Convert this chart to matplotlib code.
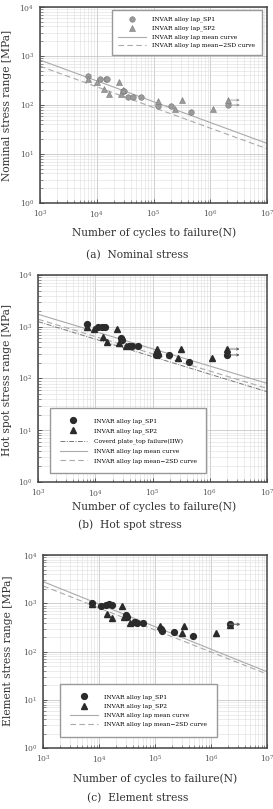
import matplotlib
matplotlib.use("Agg")
import matplotlib.pyplot as plt
from matplotlib.ticker import LogLocator, NullFormatter

plt.rcParams['font.family'] = ['DejaVu Serif']
plt.rcParams['mathtext.fontset'] = 'dejavuserif'

# ---------------- data ----------------
# (a) Nominal stress
a_sp1_N = [7100, 11400, 14500, 15200, 28600, 30500, 36000, 44000, 59400, 122000, 201000, 452000, 2030000]
a_sp1_S = [391, 340, 345, 345, 196, 196, 148, 148, 148, 95, 95, 72, 100]
a_sp2_N = [7100, 10000, 13400, 16600, 24700, 26700, 29400, 122000, 240000, 318000, 1100000, 2030000]
a_sp2_S = [334, 299, 209, 165, 290, 165, 202, 121, 82, 126, 82, 126]
a_mean_N = [1e3, 1e7]
a_mean_S = [828, 16.5]
a_2sd_S = [620, 12.8]
a_runout_S = [100, 126]

# (b) Hot spot stress
b_sp1_N = [7050, 11000, 13000, 14900, 27700, 28900, 39300, 43200, 56400, 115000, 126000, 197000, 440000, 2000000]
b_sp1_S = [1150, 1010, 1010, 1010, 598, 555, 425, 425, 425, 285, 285, 285, 211, 285]
b_sp2_N = [7050, 9450, 13400, 16200, 23600, 26200, 34300, 117000, 283000, 312000, 1090000, 2000000]
b_sp2_S = [1000, 890, 625, 500, 890, 492, 425, 366, 245, 371, 245, 371]
b_line_N = [1e3, 1e7]
b_mean_S = [1738, 80.7]
b_2sd_S = [1393, 64.6]
b_iiw_S = [1253, 55.6]
b_runout_S = [285, 371]

# (c) Element stress
c_sp1_N = [7340, 10600, 13200, 15200, 16700, 30100, 31800, 43600, 48000, 61500, 126000, 131000, 218000, 482000, 2190000]
c_sp1_S = [1000, 880, 920, 950, 920, 573, 528, 404, 386, 386, 290, 267, 258, 213, 372]
c_sp2_N = [7340, 14000, 17100, 25200, 27800, 35600, 39700, 122000, 307000, 333000, 1210000, 2190000]
c_sp2_S = [990, 600, 489, 880, 528, 386, 416, 339, 246, 339, 246, 362]
c_line_N = [1e3, 1e7]
c_mean_S = [2800, 38.4]
c_2sd_S = [2280, 34.4]
c_runout_S = [372, 362]

runout_N = [2.1e6, 3.3e6]

ylabels = ["Nominal stress range [MPa]", "Hot spot stress range [MPa]", "Element stress range [MPa]"]
captions = ["(a)  Nominal stress", "(b)  Hot spot stress", "(c)  Element stress"]
xlabel = "Number of cycles to failure(N)"

W, H = 273, 809
fig = plt.figure(figsize=(W / 100, H / 100), dpi=100)

def frac_axes(l, t, r, b):
    return fig.add_axes([l / W, 1 - b / H, (r - l) / W, (b - t) / H])

def style_axes(ax):
    ax.set_xscale('log')
    ax.set_yscale('log')
    ax.set_xlim(1e3, 1e7)
    ax.set_ylim(1, 1e4)
    ax.xaxis.set_major_locator(LogLocator(base=10, numticks=10))
    ax.yaxis.set_major_locator(LogLocator(base=10, numticks=10))
    ax.xaxis.set_minor_locator(LogLocator(base=10, subs=range(2, 10), numticks=20))
    ax.yaxis.set_minor_locator(LogLocator(base=10, subs=range(2, 10), numticks=20))
    ax.xaxis.set_minor_formatter(NullFormatter())
    ax.yaxis.set_minor_formatter(NullFormatter())
    ax.grid(True, which='major', color='#c8c8c8', lw=0.6)
    ax.grid(True, which='minor', color='#dedede', lw=0.4)
    ax.tick_params(which='both', direction='in', colors='#444444', labelsize=5.5, labelcolor='#555555')
    ax.tick_params(which='major', length=3, width=0.6, pad=4)
    ax.tick_params(which='minor', length=2, width=0.4)
    for s in ax.spines.values():
        s.set_color('#444444')
        s.set_linewidth(1.1)
    ax.set_axisbelow(True)

def runouts(ax, svals, color):
    for s in svals:
        ax.annotate('', xy=(runout_N[1], s), xytext=(runout_N[0], s),
                    arrowprops=dict(arrowstyle='->', color=color, lw=0.5, shrinkA=0, shrinkB=0,
                                    mutation_scale=4))

def leg_kw(spacing, bpad):
    return dict(fontsize=4.3, frameon=True, fancybox=False, framealpha=1, edgecolor='#999999',
                labelspacing=spacing, handlelength=4.6, handletextpad=1.1, borderaxespad=0, borderpad=bpad)

# ---- panel a ----
ax = frac_axes(40, 7, 267, 203)
style_axes(ax)
gray_m = '#9a9a9a'
ax.plot(a_sp1_N, a_sp1_S, 'o', ms=4, mfc=gray_m, mec='#7a7a7a', mew=0.4, label='INVAR alloy lap_SP1', zorder=3)
ax.plot(a_sp2_N, a_sp2_S, '^', ms=4, mfc=gray_m, mec='#7a7a7a', mew=0.4, label='INVAR alloy lap_SP2', zorder=3)
ax.plot(a_mean_N, a_mean_S, '-', color='#aaaaaa', lw=0.8, label='INVAR alloy lap mean curve')
ax.plot(a_mean_N, a_2sd_S, '--', color='#aaaaaa', lw=0.8, dashes=(5, 3), label='INVAR alloy lap mean\u22122SD curve')
runouts(ax, a_runout_S, '#888888')
ax.legend(loc='upper right', bbox_to_anchor=(0.978, 0.985), **leg_kw(0.55, 1.1))

# ---- panel b ----
ax = frac_axes(38.3, 275, 267, 482)
style_axes(ax)
dark = '#2b2b2b'
ax.plot(b_sp1_N, b_sp1_S, 'o', ms=4.2, color=dark, label='INVAR alloy lap_SP1', zorder=3)
ax.plot(b_sp2_N, b_sp2_S, '^', ms=4.2, color=dark, label='INVAR alloy lap_SP2', zorder=3)
ax.plot(b_line_N, b_iiw_S, '-.', color='#777777', lw=0.7, dashes=(5, 1.5, 1, 1.5), label='Coverd plate_top failure(IIW)')
ax.plot(b_line_N, b_mean_S, '-', color='#aaaaaa', lw=0.8, label='INVAR alloy lap mean curve')
ax.plot(b_line_N, b_2sd_S, '--', color='#aaaaaa', lw=0.8, dashes=(5, 3), label='INVAR alloy lap mean\u22122SD curve')
runouts(ax, b_runout_S, '#444444')
ax.legend(loc='lower left', bbox_to_anchor=(0.051, 0.043), **leg_kw(0.75, 1.6))

# ---- panel c ----
ax = frac_axes(43.3, 555, 267, 748.3)
style_axes(ax)
ax.plot(c_sp1_N, c_sp1_S, 'o', ms=4.2, color=dark, label='INVAR alloy lap_SP1', zorder=3)
ax.plot(c_sp2_N, c_sp2_S, '^', ms=4.2, color=dark, label='INVAR alloy lap_SP2', zorder=3)
ax.plot(c_line_N, c_mean_S, '-', color='#aaaaaa', lw=0.8, label='INVAR alloy lap mean curve')
ax.plot(c_line_N, c_2sd_S, '--', color='#aaaaaa', lw=0.8, dashes=(5, 3), label='INVAR alloy lap mean\u22122SD curve')
runouts(ax, c_runout_S, '#666666')
ax.legend(loc='lower left', bbox_to_anchor=(0.075, 0.058), **leg_kw(0.6, 1.7))

# ---- texts ----
txt_kw = dict(color='#333333', ha='center', va='center')
fs = 7.7
fig.text(7 / W, 1 - 105 / H, ylabels[0], rotation=90, fontsize=fs, **txt_kw)
fig.text(7 / W, 1 - 380 / H, ylabels[1], rotation=90, fontsize=fs, **txt_kw)
fig.text(8 / W, 1 - 651 / H, ylabels[2], rotation=90, fontsize=fs, **txt_kw)
fig.text(154 / W, 1 - 233 / H, xlabel, fontsize=fs, **txt_kw)
fig.text(154 / W, 1 - 507 / H, xlabel, fontsize=fs, **txt_kw)
fig.text(155 / W, 1 - 779 / H, xlabel, fontsize=fs, **txt_kw)
fig.text(137 / W, 1 - 255 / H, captions[0], fontsize=fs, **txt_kw)
fig.text(130 / W, 1 - 525 / H, captions[1], fontsize=fs, **txt_kw)
fig.text(138 / W, 1 - 798 / H, captions[2], fontsize=fs, **txt_kw)

fig.savefig('out.png', dpi=100)
